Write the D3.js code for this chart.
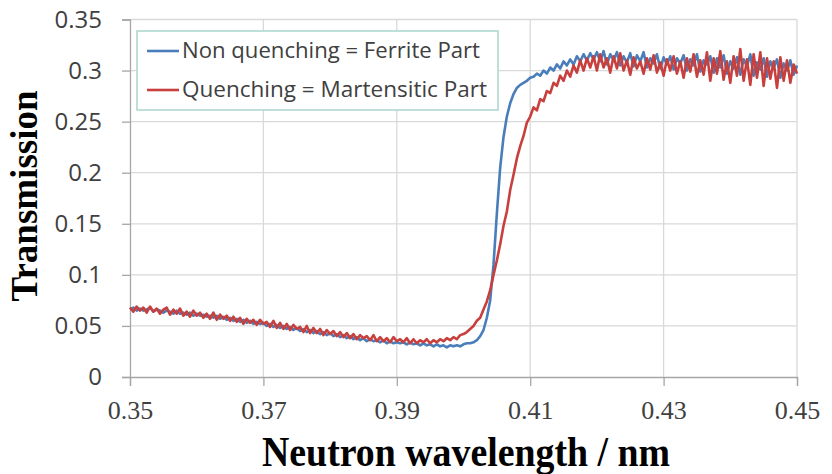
<!DOCTYPE html>
<html>
<head>
<meta charset="utf-8">
<script src="https://cdn.jsdelivr.net/npm/d3@7"></script>
<style>
  body { margin: 0; background: #fff; }
</style>
</head>
<body>
<div id="chart"></div>
<script>
// wavelength grid (nm), 0.0005 steps
const wavelengths = d3.range(0, 201).map(i => +(0.35 + i * 0.0005).toFixed(4));

// Non quenching = Ferrite Part
const ferrite = [
  0.066,0.068,0.065,0.067,0.065,0.066,0.068,0.064,0.066,0.065,0.063,0.065,0.064,0.062,0.065,0.062,0.063,0.061,0.063,0.060,0.062,
  0.060,0.061,0.059,0.060,0.058,0.060,0.057,0.059,0.056,0.058,0.055,0.057,0.054,0.056,0.053,0.055,0.052,0.054,0.052,0.053,
  0.050,0.052,0.049,0.051,0.048,0.050,0.047,0.049,0.046,0.048,0.045,0.047,0.044,0.046,0.043,0.045,0.042,0.044,0.041,0.043,
  0.040,0.042,0.039,0.041,0.038,0.040,0.037,0.039,0.036,0.038,0.035,0.037,0.035,0.036,0.034,0.036,0.033,0.035,0.033,0.034,
  0.033,0.034,0.032,0.034,0.032,0.033,0.031,0.033,0.031,0.032,0.030,0.032,0.030,0.031,0.029,0.031,0.030,0.031,0.030,0.032,
  0.033,0.033,0.034,0.036,0.040,0.046,0.058,0.075,0.110,0.160,0.205,0.235,0.255,0.268,0.277,0.283,0.286,0.288,0.290,0.293,
  0.294,0.297,0.295,0.300,0.297,0.303,0.300,0.306,0.302,0.309,0.305,0.311,0.306,0.314,0.309,0.316,0.310,0.317,0.311,0.318,
  0.309,0.319,0.306,0.316,0.310,0.318,0.305,0.314,0.308,0.317,
  0.304,0.315,0.309,0.318,0.303,0.312,0.307,0.316,0.302,0.313,
  0.306,0.314,0.301,0.312,0.307,0.315,0.300,0.311,0.305,0.316,
  0.299,0.310,0.306,0.314,0.298,0.312,0.303,0.315,0.297,0.309,
  0.302,0.313,0.296,0.311,0.304,0.316,0.295,0.308,0.301,0.312,
  0.294,0.309,0.303,0.311,0.293,0.307,0.300,0.310,0.296,0.305,
  0.299
];

// Quenching = Martensitic Part
const martensite = [
  0.068,0.064,0.069,0.065,0.068,0.063,0.069,0.064,0.067,0.062,0.066,0.068,0.061,0.066,0.062,0.067,0.060,0.064,0.059,0.065,0.060,
  0.063,0.058,0.062,0.057,0.063,0.056,0.061,0.057,0.060,0.055,0.059,0.054,0.058,0.052,0.057,0.053,0.056,0.051,0.056,0.052,
  0.054,0.049,0.055,0.048,0.053,0.047,0.052,0.046,0.051,0.047,0.049,0.044,0.050,0.043,0.048,0.043,0.047,0.041,0.046,0.042,
  0.045,0.040,0.044,0.039,0.043,0.038,0.042,0.037,0.041,0.038,0.040,0.036,0.041,0.035,0.039,0.035,0.038,0.034,0.039,0.035,
  0.037,0.034,0.038,0.033,0.037,0.033,0.036,0.034,0.037,0.033,0.036,0.034,0.037,0.035,0.038,0.036,0.039,0.037,0.041,0.042,
  0.044,0.047,0.050,0.055,0.058,0.066,0.074,0.085,0.100,0.114,0.130,0.148,0.162,0.183,0.198,0.214,0.226,0.236,0.249,0.255,
  0.264,0.261,0.272,0.270,0.280,0.278,0.288,0.285,0.295,0.290,0.300,0.294,0.305,0.298,0.310,0.300,0.312,0.303,0.314,0.300,
  0.316,0.303,0.312,0.298,0.314,0.302,0.317,0.300,0.310,0.296,
  0.313,0.302,0.309,0.297,0.312,0.301,0.315,0.298,0.308,0.295,
  0.311,0.300,0.314,0.297,0.309,0.293,0.312,0.299,0.316,0.294,
  0.310,0.296,0.318,0.290,0.312,0.297,0.319,0.291,0.309,0.288,
  0.314,0.295,0.321,0.290,0.311,0.286,0.316,0.293,0.318,0.285,
  0.312,0.292,0.309,0.283,0.313,0.290,0.310,0.288,0.306,0.297
];

const seriesNames = ["Non quenching = Ferrite Part", "Quenching = Martensitic Part"];
const seriesColors = ["#4a7ebb", "#c8403d"];
const xTicks = [0.35, 0.37, 0.39, 0.41, 0.43, 0.45];
const yTicks = [0, 0.05, 0.1, 0.15, 0.2, 0.25, 0.3, 0.35];

// Set up the dimensions of the chart
const margin = { top: 19.5, right: 35, bottom: 97, left: 130 };
const width = 832 - margin.left - margin.right;
const height = 474 - margin.top - margin.bottom;

const root = d3.select("#chart").append("svg")
  .attr("width", 832)
  .attr("height", 474);

const svg = root.append("g")
  .attr("transform", "translate(" + margin.left + "," + margin.top + ")");

const x = d3.scaleLinear().domain([0.35, 0.45]).range([0, width]);
const y = d3.scaleLinear().domain([0, 0.35]).range([height, 0]);

// gridlines
svg.selectAll("line.hgrid")
  .data(yTicks.slice(1))
  .enter().append("line")
  .attr("x1", 0).attr("x2", width)
  .attr("y1", d => y(d)).attr("y2", d => y(d))
  .style("stroke", "#d9d9d9")
  .style("stroke-width", 1.3);

svg.selectAll("line.vgrid")
  .data(xTicks.slice(1))
  .enter().append("line")
  .attr("x1", d => x(d)).attr("x2", d => x(d))
  .attr("y1", 0).attr("y2", height)
  .style("stroke", "#d9d9d9")
  .style("stroke-width", 1.3);

// axes
const yAxis = d3.axisLeft(y).tickValues(yTicks).tickSize(8).tickPadding(20)
  .tickFormat(d => d3.format("")(+d.toFixed(2)));
const xAxis = d3.axisBottom(x).tickValues(xTicks).tickSize(9).tickPadding(15)
  .tickFormat(d => d.toFixed(2));

const gy = svg.append("g").call(yAxis);
gy.select(".domain").style("stroke", "#a6a6a6").style("stroke-width", 1.3);
gy.selectAll(".tick line").style("stroke", "#a6a6a6").style("stroke-width", 1.3);
gy.selectAll(".tick text")
  .style("font-family", "'Open Sans', sans-serif")
  .style("font-size", "24px")
  .style("fill", "#404040");

const gx = svg.append("g")
  .attr("transform", "translate(0," + height + ")")
  .call(xAxis);
gx.select(".domain").style("stroke", "#a6a6a6").style("stroke-width", 1.3);
gx.selectAll(".tick line").style("stroke", "#a6a6a6").style("stroke-width", 1.3);
gx.selectAll(".tick text")
  .style("font-family", "'Liberation Serif', serif")
  .style("font-size", "26px")
  .style("fill", "#404040");

// the two curves, ferrite first so martensite sits on top
const line = d3.line()
  .x((d, i) => x(wavelengths[i]))
  .y(d => y(d));

[ferrite, martensite].forEach((s, k) => {
  svg.append("path")
    .datum(s)
    .attr("d", line)
    .style("fill", "none")
    .style("stroke", seriesColors[k])
    .style("stroke-width", 2.6)
    .style("stroke-linejoin", "round");
});

// legend
const legend = root.append("g");
legend.append("rect")
  .attr("x", 137).attr("y", 31)
  .attr("width", 361).attr("height", 79)
  .style("fill", "#fff")
  .style("stroke", "#a9d6cd")
  .style("stroke-width", 1.5);

seriesNames.forEach((name, k) => {
  const ly = 51 + k * 39;
  legend.append("line")
    .attr("x1", 147).attr("x2", 179)
    .attr("y1", ly).attr("y2", ly)
    .style("stroke", seriesColors[k])
    .style("stroke-width", 2.6);
  legend.append("text")
    .attr("x", 182).attr("y", ly + 7)
    .attr("textLength", k === 0 ? 298 : 305)
    .attr("lengthAdjust", "spacingAndGlyphs")
    .style("font-family", "'Open Sans', sans-serif")
    .style("font-size", "21px")
    .style("fill", "#404040")
    .text(name);
});

// axis titles
root.append("text")
  .attr("transform", "translate(37,196) rotate(-90)")
  .attr("text-anchor", "middle")
  .style("font-family", "'Liberation Serif', serif")
  .style("font-weight", "bold")
  .style("font-size", "37px")
  .style("fill", "#000")
  .text("Transmission");

root.append("text")
  .attr("x", 466).attr("y", 466)
  .attr("text-anchor", "middle")
  .attr("textLength", 408)
  .attr("lengthAdjust", "spacingAndGlyphs")
  .style("font-family", "'Liberation Serif', serif")
  .style("font-weight", "bold")
  .style("font-size", "42px")
  .style("fill", "#000")
  .text("Neutron wavelength / nm");
</script>
</body>
</html>
